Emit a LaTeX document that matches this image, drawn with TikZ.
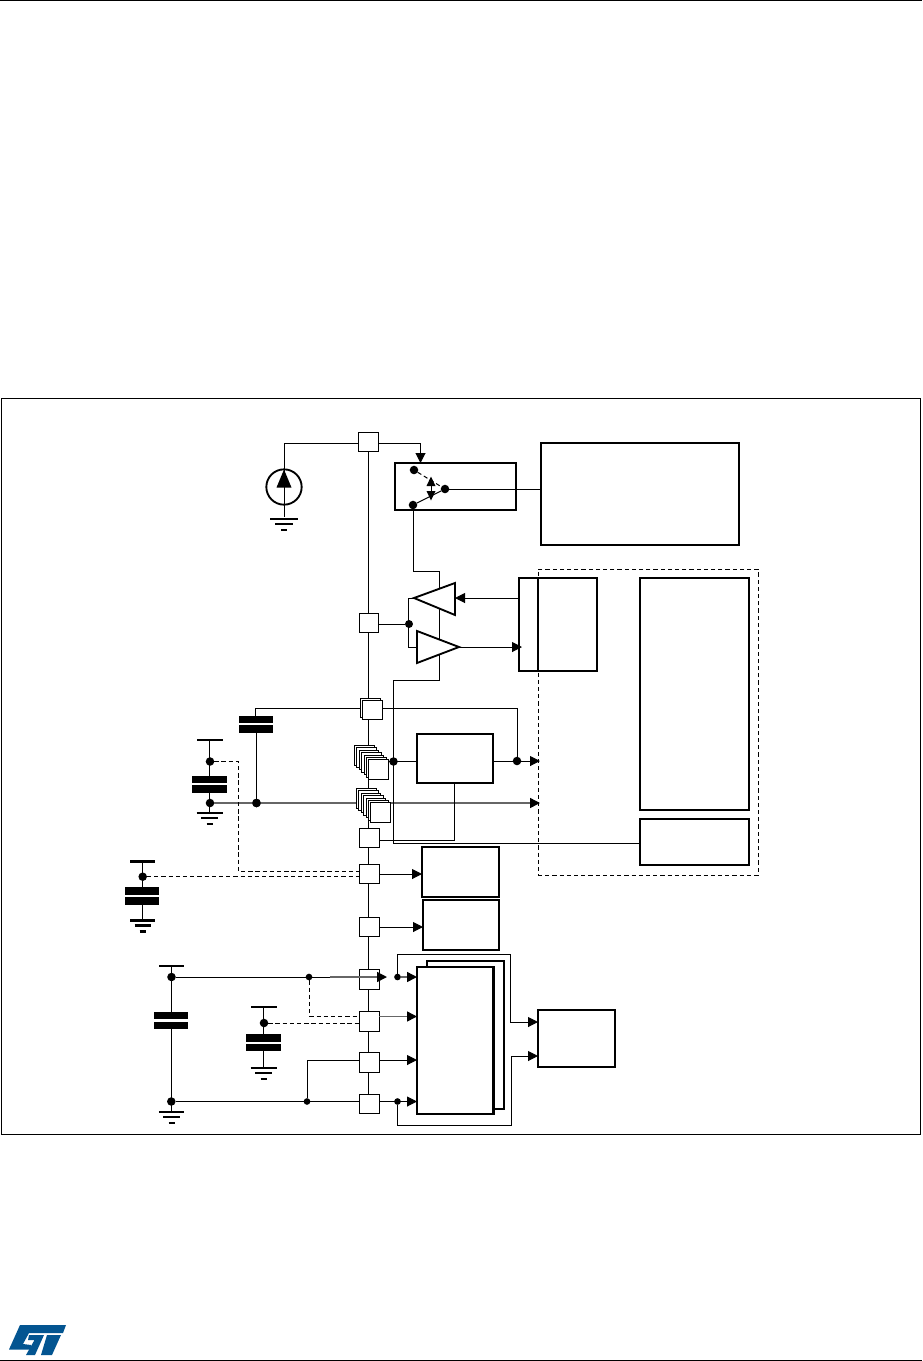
\documentclass[tikz,border=0pt]{standalone}
\usetikzlibrary{arrows.meta}
\definecolor{stblue}{RGB}{3,85,145}
\newcommand{\pbox}[6]{% style,name,x0,y0,x1,y1
  \pgfmathsetmacro{\pw}{(#5-#3)*0.75}\pgfmathsetmacro{\ph}{(#6-#4)*0.75}
  \node[#1,minimum width=\pw pt,minimum height=\ph pt] (#2) at ({(#3+#5)/2},{(#4+#6)/2}) {};}
\newcommand{\gnd}[4]{% name,x,y,  bar widths scale
  \coordinate (#1) at (#2,#3);
  \draw[bar] (#2-14*#4,#3) -- (#2+14*#4,#3);
  \draw[bar] (#2-9*#4,#3+5) -- (#2+9*#4,#3+5);
  \draw[bar] (#2-3,#3+11) -- (#2+3,#3+11);}
\newcommand{\capa}[8]{% name,x,halfwidth,y0,y1,y2,y3
  \node[plate,minimum width=#3*1.5pt,minimum height={(#5-#4)*0.75pt}] (#1a) at (#2,{(#4+#5)/2}) {};
  \node[plate,minimum width=#3*1.5pt,minimum height={(#7-#6)*0.75pt}] (#1b) at (#2,{(#6+#7)/2}) {};}
\tikzset{
  thinbox/.style={draw=black,fill=white,line width=0.75pt,inner sep=0pt,outer sep=0pt},
  thickbox/.style={draw=black,fill=white,line width=1.6pt,inner sep=0pt,outer sep=0pt},
  plate/.style={fill=black,inner sep=0pt,outer sep=0pt},
  junction/.style={circle,fill=black,inner sep=0pt,outer sep=0pt,minimum size=6.4pt},
  smalljunction/.style={circle,fill=black,inner sep=0pt,outer sep=0pt,minimum size=5pt},
  wire/.style={line width=0.75pt},
  bar/.style={line width=2pt},
  grayw/.style={line width=1.1pt,draw=black!60},
  tipk/.style={-{Triangle[length=7.5pt,width=7.5pt,color=black,fill=black]}},
  arr/.style={wire,-{Triangle[length=7.5pt,width=7.5pt]}},
  dashw/.style={line width=0.75pt,dash pattern=on 3.2pt off 2.2pt},
}
\begin{document}
\begin{tikzpicture}[x=0.75pt,y=-0.75pt]
\useasboundingbox (0,0) rectangle (922,1361);
\fill[white] (0,0) rectangle (922,1361);
% page rules
\draw[line width=1pt] (0,0.4) -- (922,0.4);
\draw[line width=1pt] (0,1360.3) -- (922,1360.3);
% logo
\fill[stblue] (20,1325) -- (66,1325) -- (63,1333) -- (29,1333) -- (23,1344) -- (31,1345) -- (33,1349.5) -- (9,1349.5) -- cycle;
\fill[stblue] (29,1335) -- (44,1335) -- (35,1355) -- (26,1355) -- (34.5,1340) -- (28,1340) -- cycle;
\fill[stblue] (47,1335) -- (61,1335) -- (52,1355) -- (41,1355) -- cycle;
% frame
\draw[line width=0.7pt] (1,398.5) rectangle (920,1134);

% bus
\coordinate (busT) at (368.5,442);
\coordinate (busB) at (368.5,1100);
\draw[wire] (busT) -- (busB);

% wires beneath the blocks
\coordinate (feedA) at (413,571);
\coordinate (feedB) at (439.5,571);
\coordinate (feedC) at (439.5,680);
\coordinate (feedD) at (393,680);
\coordinate (feedE) at (393,843);
\coordinate (feedF) at (640,843);
\draw[wire] (413,505) -- (feedA) -- (feedB) -- (feedC) -- (feedD) -- (feedE) -- (feedF);

% current source
\node[circle,draw,line width=1.4pt,fill=white,minimum size=26.5pt,inner sep=0pt,outer sep=0pt] (src) at (284,487) {};
\fill[black] (284,469.5) -- (291.5,487.5) -- (276.5,487.5) -- cycle;
\gnd{gndS}{284}{519}{1}
\draw[wire] (284,443.5) -- (src.north);
\draw[wire] (284,469) -- (284,517);

% pads top
\pbox{thinbox}{padA}{358.5}{432.5}{378}{451.5}
\draw[wire] (padA.west |- 0,443.5) -- (284,443.5);
\pbox{thinbox}{padB}{359.5}{613.5}{378.5}{632.5}

% switch + top block
\pbox{thickbox}{sw}{395}{463}{516}{510}
\pbox{thickbox}{topblk}{541}{443}{739}{545}
\coordinate (swin) at (420.5,463);
\draw[arr] (padA.east |- 0,443.5) -| (swin);
\node[junction] (swA) at (414,470) {};
\node[junction] (swB) at (445,489) {};
\node[junction] (swC) at (413,505) {};
\draw[dashw] (swA) -- (swB);
\draw[wire] (swC) -- (swB);
\fill[black] (431,476.5) -- (435.5,486) -- (426.5,486) -- cycle;
\fill[black] (431,500.5) -- (435.5,491) -- (426.5,491) -- cycle;
\draw[wire] (431,484) -- (431,493);
\draw[wire] (swB) -- (topblk.west |- swB);

% dashed domain
\node[draw,dashw,inner sep=0pt,minimum width=165pt,minimum height=229.5pt,outer sep=0pt] (domain) at (648,722) {};

% amplifier blocks
\pbox{thickbox}{iface}{519}{578}{597}{671}
\draw[line width=1.5pt] (538,578) -- (538,671);
\pbox{thickbox}{core}{640}{578}{749}{810}
\pbox{thickbox}{reg}{640}{819}{749}{865}

\coordinate (ampAtip) at (414,598);
\coordinate (ampAin) at (455,598);
\coordinate (ampBtail) at (417,647);
\coordinate (ampBtip) at (459,647);
\node[junction,minimum size=6pt] (jB) at (409,624) {};
\draw[wire] (padB.east |- jB) -- (jB);
\draw[wire] (ampAtip) -- (408.5,598) -- (408.5,647) -- (ampBtail);
\draw[line width=1.4pt,fill=white,line join=miter] (ampAtip) -- (455,583) -- (455,615) -- cycle;
\draw[line width=1.4pt,fill=white,line join=miter] (417,631) -- (417,663) -- (ampBtip) -- cycle;
\draw[arr] (iface.west |- ampAin) -- (ampAin);
\coordinate (ifin) at (522,647);
\draw[arr] (ampBtip) -- (ifin);

% wires to domain
\coordinate (c1top) at (255,708.3);
\coordinate (r1) at (517,708.3);
\coordinate (domA) at (540,761);
\coordinate (domB) at (540,803);
\coordinate (dashTurn) at (238.5,761.5);
\coordinate (dashEnd) at (359,871.5);

% capacitor 1
\capa{capP}{256}{17}{716}{723}{725}{733}{}
\node[junction] (jG) at (256.5,803) {};
\draw[wire] (c1top) -- (255,716);
\draw[wire] (256.5,733) -- (jG);
% capacitor 2
\draw[bar] (197,740) -- (223,740);
\capa{capQ}{209.5}{17.5}{776}{783}{785}{793}{}
\node[junction] (jQ1) at (210,761.5) {};
\node[junction] (jQ2) at (210,803) {};
\draw[wire] (209.7,740) -- (209.7,776);
\draw[wire] (209.7,793) -- (209.7,812);
\gnd{gndQ}{209.7}{813}{0.93}
\draw[grayw,tipk] (jQ2) -- (domB);
\fill[black] (jG) circle (3.2pt);
\draw[dashw] (jQ1) -- (dashTurn) -- (238.5,871.5) -- (dashEnd);

% pad stack A (double)
\pbox{thinbox}{stA1}{360}{698.5}{380}{717.5}
\pbox{thinbox}{stA2}{362}{700.5}{382}{719.5}
\draw[wire] (c1top) -- (stA1.west |- c1top);
\draw[wire] (stA2.east |- r1) -- (r1);
% pad stack B
\foreach \i in {0,...,6}{
  \pgfmathsetmacro{\xa}{354.5+2.4*\i}\pgfmathsetmacro{\ya}{745.5+2.4*\i}
  \pgfmathsetmacro{\xb}{\xa+19.5}\pgfmathsetmacro{\yb}{\ya+19.5}
  \pbox{thinbox}{stB\i}{\xa}{\ya}{\xb}{\yb}
}
% pad stack C
\foreach \i in {0,...,6}{
  \pgfmathsetmacro{\xa}{356.5+2.4*\i}\pgfmathsetmacro{\ya}{788.5+2.4*\i}
  \pgfmathsetmacro{\xb}{\xa+19.5}\pgfmathsetmacro{\yb}{\ya+19.5}
  \pbox{thinbox}{stC\i}{\xa}{\ya}{\xb}{\yb}
}
\draw[wire] (feedD) -- (feedE);

% block with two outputs
\pbox{thickbox}{mid}{417}{734}{493}{783}
\node[junction] (jL) at (393.5,761.5) {};
\coordinate (midIn) at (417,761);
\draw[wire] (stB6.east |- midIn) -- (midIn);
\node[junction] (jR) at (517,761) {};
\draw[wire] (r1) -- (jR);
\coordinate (midR) at (493,761);
\draw[arr] (midR) -- (domA);
\pbox{thinbox}{padC}{359.5}{828.5}{379}{847.5}
\coordinate (midOut) at (454.5,840);
\draw[wire] (padC.east |- midOut) -- (midOut) -- (mid.south -| midOut);

% supply pads
\pbox{thinbox}{padD}{359.5}{864.5}{379}{883.5}
\pbox{thinbox}{padE}{359.5}{917.5}{379}{936.5}
\pbox{thickbox}{blkD}{422}{847}{499}{897}
\pbox{thickbox}{blkE}{423}{900}{499}{950}
\coordinate (blkDin) at (422,874);
\coordinate (blkEin) at (423,927);
\draw[arr] (padD.east |- blkDin) -- (blkDin);
\draw[arr] (padE.east |- blkEin) -- (blkEin);

% capacitor 3
\draw[bar] (130,861.3) -- (155,861.3);
\capa{capR}{142}{17}{887}{895}{897}{905}{}
\node[junction] (jR3) at (142.7,876.7) {};
\draw[wire] (142.7,861) -- (142.7,887);
\draw[wire] (142.7,905) -- (142.7,920);
\gnd{gndR}{142.7}{920.7}{0.9}
\draw[dashw] (jR3) -- (padD.west |- jR3);

% lower ADC block
\pbox{thickbox}{adcB}{427}{961}{504}{1109}
\pbox{thickbox}{adcA}{417}{967}{493.5}{1114}
\pbox{thickbox}{cmp}{538}{1010}{615}{1067}

% lower pads
\pbox{thinbox}{padF}{359.5}{969.5}{379}{989}
\pbox{thinbox}{padG}{359.5}{1011.5}{379}{1031}
\pbox{thinbox}{padH}{359.5}{1052.5}{379}{1072}
\pbox{thinbox}{padI}{359.5}{1094.5}{379}{1113.5}
\draw[line width=1.2pt] (359.5,1094.5) -- (379,1094.5);

% capacitor 4
\draw[bar] (159,966) -- (184,966);
\capa{capS}{171}{17}{1012}{1019}{1022}{1029}{}
\node[junction] (jS1) at (171.5,977) {};
\node[junction] (jS2) at (171.3,1101.5) {};
\draw[wire] (171.5,966) -- (171.5,1012);
\draw[wire] (171.5,1029) -- (171.5,1111);
\gnd{gndS4}{171.5}{1112}{0.9}
\node[smalljunction] (jT1) at (309,977) {};
\node[smalljunction] (jT2) at (307,1101.5) {};
% capacitor 5
\draw[bar] (251,1007) -- (277,1007);
\capa{capU}{263.7}{17.5}{1034}{1042}{1044}{1051}{}
\node[junction] (jU) at (264,1023) {};
\draw[wire] (263.7,1007) -- (263.7,1034);
\draw[wire] (263.7,1051) -- (263.7,1067);
\gnd{gndU}{263.7}{1068}{0.93}
\draw[dashw] (jU) -- (padG.west |- jU);
\draw[dashw] (jT1) -- (309,1016) -- (359,1016);

% lower connectors
\coordinate (jin) at (387,977);
\node[smalljunction] (jV1) at (397.5,977) {};
\node[smalljunction] (jV2) at (397.5,1101.5) {};
\coordinate (adcF) at (417,977);
\coordinate (adcG) at (417,1016.5);
\coordinate (adcH) at (417,1060);
\coordinate (adcI) at (417,1101.5);
\draw[wire] (jS1) -- (jT1) -- (330,977);
\draw[grayw,tipk] (330,977) -- (jin);
\draw[grayw,tipk] (jV1) -- (adcF);
\draw[grayw,tipk] (padG.east |- adcG) -- (adcG);
\draw[arr] (padH.east |- adcH) -- (adcH);
\draw[arr] (padI.east |- adcI) -- (adcI);
\draw[wire] (jS2) -- (jT2) -- (padI.west |- jT2);
\draw[wire] (jT2) -- (307,1060) -- (padH.west |- adcH);
\coordinate (cmpA) at (538,1022);
\coordinate (cmpB) at (538,1056);
\draw[arr] (jV1) -- (397.5,954.5) -- (510.5,954.5) -- (510.5,1022) -- (cmpA);
\draw[arr] (jV2) -- (397.5,1125) -- (511,1125) -- (511,1056) -- (cmpB);
\end{tikzpicture}
\end{document}
